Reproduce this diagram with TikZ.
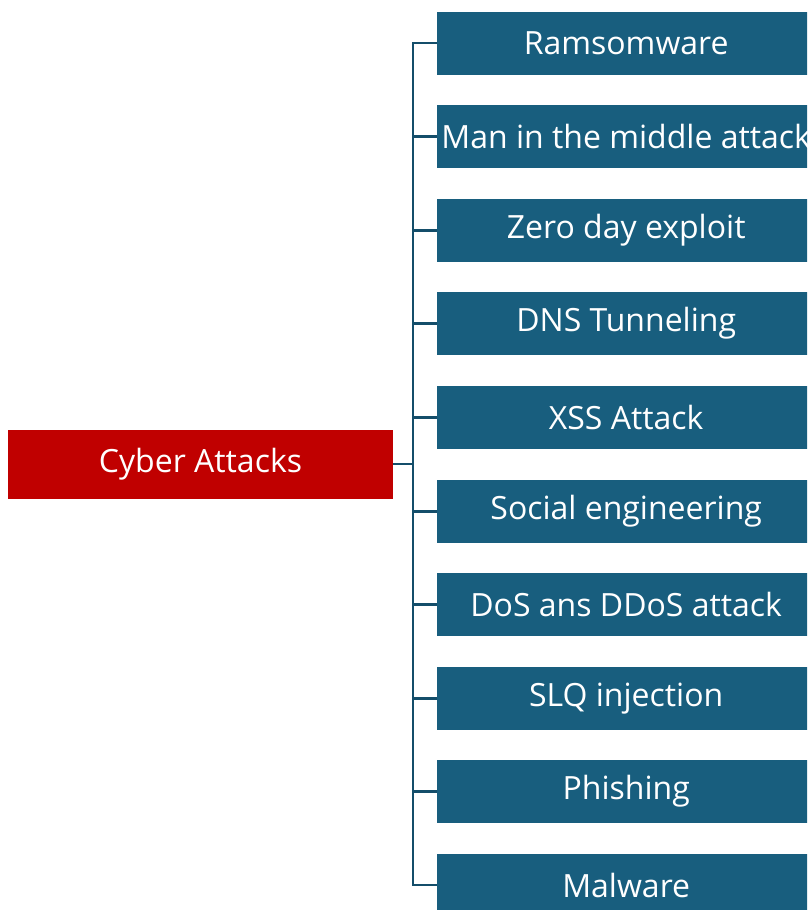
\documentclass[tikz,border=0pt]{standalone}
\usepackage{fontspec}
\setmainfont{Open Sans}
\definecolor{boxteal}{RGB}{24,94,126}
\definecolor{lineteal}{RGB}{20,78,106}
\definecolor{rootred}{RGB}{192,0,0}
\begin{document}
\begin{tikzpicture}[x=1pt,y=-1pt,
  leaf/.style={fill=boxteal,draw=none,minimum width=378pt,minimum height=63pt,
    text=white,font=\fontsize{32}{38}\selectfont,inner sep=0pt,anchor=west},
  root/.style={fill=rootred,draw=none,minimum width=385pt,minimum height=69pt,
    text=white,font=\fontsize{32}{38}\selectfont,inner sep=0pt},
  link/.style={draw=lineteal,line width=2.2pt}]
\useasboundingbox (0,0) rectangle (807,910);
\clip (0,0) rectangle (807,910);
\node[root] (root) at (200.5,464) {Cyber Attacks};
\coordinate (trunk) at (413,464);
\foreach \i/\y/\t in {1/43/Ramsomware,2/136.5/Man in the middle attack,3/230.5/Zero day exploit,
  4/323.5/DNS Tunneling,5/417.5/XSS Attack,6/511.5/Social engineering,
  7/604.5/DoS ans DDoS attack,8/698.5/SLQ injection,9/791.5/Phishing,10/885/Malware}{
  \node[leaf] (n\i) at (437,\y) {\t};
  \coordinate (j\i) at (413,\y);
}
\draw[link] (root.east) -- (trunk);
\draw[link] (n1.west) -- (j1) -- (j10) -- (n10.west);
\foreach \i in {2,...,9}{\draw[link] (j\i) -- (n\i.west);}
\end{tikzpicture}
\end{document}
